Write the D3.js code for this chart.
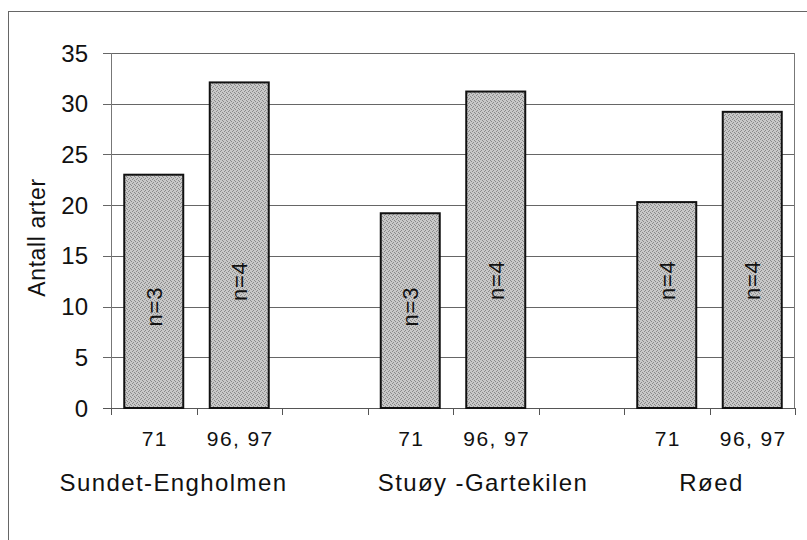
<!DOCTYPE html>
<html>
<head>
<meta charset="utf-8">
<script src="https://cdn.jsdelivr.net/npm/d3@7"></script>
<style>
  body { margin: 0; background: #fff; }
  text { font-family: "Liberation Sans", Arial, sans-serif; fill: #111; }
</style>
</head>
<body>
<div id="chart"></div>
<script>
// data
var slots = ["a71", "a96", "gap1", "b71", "b96", "gap2", "c71", "c96"];
var slotLabels = ["71", "96, 97", "", "71", "96, 97", "", "71", "96, 97"];
var barSlots = ["a71", "a96", "b71", "b96", "c71", "c96"];
var barValues = [23, 32.1, 19.2, 31.2, 20.3, 29.2];
var nLabels = ["n=3", "n=4", "n=3", "n=4", "n=4", "n=4"];
var nLabelAt = [10, 12.5, 10, 12.6, 12.6, 12.6];
var groups = ["Sundet-Engholmen", "Stuøy -Gartekilen", "Røed"];
var groupSlots = [["a71", "a96"], ["b71", "b96"], ["c71", "c96"]];
var yTicks = [0, 5, 10, 15, 20, 25, 30, 35];

var W = 807, H = 540;
var margin = {top: 53, right: 12, bottom: 132, left: 111},
    width = W - margin.left - margin.right,
    height = H - margin.top - margin.bottom;

var svg = d3.select("#chart").append("svg")
    .attr("width", W)
    .attr("height", H);

// halftone-like fill for the bars
var pat = svg.append("defs").append("pattern")
    .attr("id", "stipple")
    .attr("width", 4).attr("height", 4)
    .attr("patternUnits", "userSpaceOnUse");
pat.append("rect").attr("width", 4).attr("height", 4).attr("fill", "#c8c8c8");
[[0, 0], [2, 1], [1, 2], [3, 3]].forEach(function(p) {
    pat.append("rect").attr("x", p[0]).attr("y", p[1])
        .attr("width", 1).attr("height", 1).attr("fill", "#8a8a8a");
});

// outer frame
svg.append("rect")
    .attr("x", 8.5).attr("y", 11.5)
    .attr("width", W + 10).attr("height", H + 10)
    .attr("fill", "none")
    .attr("stroke", "#666")
    .attr("stroke-width", 1);

var g = svg.append("g")
    .attr("transform", "translate(" + margin.left + "," + margin.top + ")");

var x = d3.scaleBand().domain(slots).range([0, width])
    .paddingInner(0.31).paddingOuter(0.155);
var y = d3.scaleLinear().domain([0, 35]).range([height, 0]);
var step = x.step();
var mid = d => x(d) + x.bandwidth() / 2;

// gridlines
g.append("g").selectAll("line").data(yTicks.slice(1))
    .enter().append("line")
    .attr("x1", -8).attr("x2", width)
    .attr("y1", d => Math.round(y(d)) + 0.5)
    .attr("y2", d => Math.round(y(d)) + 0.5)
    .attr("stroke", "#666");

// plot area sides
g.append("line").attr("x1", 0.5).attr("x2", 0.5).attr("y1", 0).attr("y2", height)
    .attr("stroke", "#777");
g.append("line").attr("x1", width - 0.5).attr("x2", width - 0.5).attr("y1", 0).attr("y2", height)
    .attr("stroke", "#777");

// x axis line and ticks
g.append("line").attr("x1", -8).attr("x2", width)
    .attr("y1", height + 0.5).attr("y2", height + 0.5)
    .attr("stroke", "#555");
g.append("g").selectAll("line").data(d3.range(slots.length + 1))
    .enter().append("line")
    .attr("x1", i => Math.round(i * step) + 0.5)
    .attr("x2", i => Math.round(i * step) + 0.5)
    .attr("y1", height).attr("y2", height + 7)
    .attr("stroke", "#555");

// y tick labels
g.append("g").selectAll("text").data(yTicks)
    .enter().append("text")
    .attr("x", -23)
    .attr("y", d => y(d))
    .attr("dy", "0.36em")
    .attr("text-anchor", "end")
    .style("font-size", "24px")
    .text(d => d);

// y title
g.append("text")
    .attr("transform", "translate(" + (-66) + "," + (height / 2 + 7) + ") rotate(-90)")
    .attr("text-anchor", "middle")
    .style("font-size", "23px")
    .style("letter-spacing", "0.6px")
    .text("Antall arter");

// bars
g.append("g").selectAll("rect").data(barValues)
    .enter().append("rect")
    .attr("x", (d, i) => x(barSlots[i]))
    .attr("y", d => y(d))
    .attr("width", x.bandwidth())
    .attr("height", d => height - y(d))
    .attr("fill", "url(#stipple)")
    .attr("stroke", "#111")
    .attr("stroke-width", 2);

// n labels
g.append("g").selectAll("text").data(nLabels)
    .enter().append("text")
    .attr("transform", (d, i) => "translate(" + (mid(barSlots[i]) + 8) + "," + y(nLabelAt[i]) + ") rotate(-90)")
    .attr("text-anchor", "middle")
    .style("font-size", "22px")
    .style("letter-spacing", "0.8px")
    .text(d => d);

// category labels
g.append("g").selectAll("text").data(slots)
    .enter().append("text")
    .attr("x", d => mid(d) + 1)
    .attr("y", height + 38)
    .attr("text-anchor", "middle")
    .style("font-size", "21px")
    .style("letter-spacing", "1.4px")
    .text((d, i) => slotLabels[i]);

// group labels, hand placed around each group's centre
var groupNudge = [-23, 30, 2];
g.append("g").selectAll("text").data(groups)
    .enter().append("text")
    .attr("x", (d, i) => (mid(groupSlots[i][0]) + mid(groupSlots[i][1])) / 2 + groupNudge[i])
    .attr("y", height + 83)
    .attr("text-anchor", "middle")
    .style("font-size", "24px")
    .style("letter-spacing", "1.4px")
    .text(d => d);
</script>
</body>
</html>
